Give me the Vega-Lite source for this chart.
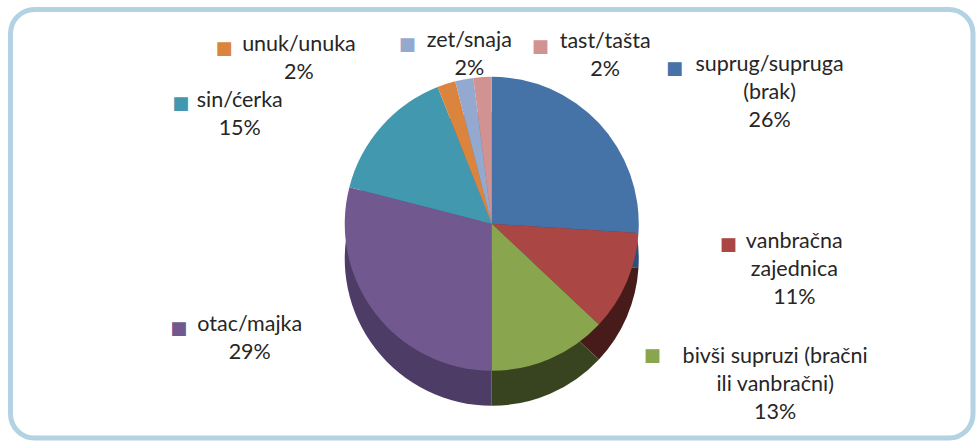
{
  "$schema": "https://vega.github.io/schema/vega-lite/v6.json",
  "width": 977,
  "height": 441,
  "autosize": {"type": "fit", "contains": "padding"},
  "padding": {"left": 10.5, "top": 9.5, "right": 4, "bottom": 3},
  "background": "white",
  "view": {"stroke": "#b3d2e2", "strokeWidth": 5, "cornerRadius": 24, "fill": "white"},
  "data": {
    "values": [
      {"name": "suprug/supruga", "lines": ["suprug/supruga", "(brak)", "26%"], "pct": 26, "k": 1},
      {"name": "vanbračna zajednica", "lines": ["vanbračna", "zajednica", "11%"], "pct": 11, "k": 2},
      {"name": "bivši supruzi (bračni ili vanbračni)", "lines": ["bivši supruzi (bračni", "ili vanbračni)", "13%"], "pct": 13, "k": 3},
      {"name": "otac/majka", "lines": ["otac/majka", "29%"], "pct": 29, "k": 4},
      {"name": "sin/ćerka", "lines": ["sin/ćerka", "15%"], "pct": 15, "k": 5},
      {"name": "unuk/unuka", "lines": ["unuk/unuka", "2%"], "pct": 2, "k": 6},
      {"name": "zet/snaja", "lines": ["zet/snaja", "2%"], "pct": 2, "k": 7},
      {"name": "tast/tašta", "lines": ["tast/tašta", "2%"], "pct": 2, "k": 8}
    ]
  },
  "encoding": {
    "theta": {"field": "pct", "type": "quantitative", "stack": true},
    "order": {"field": "k", "type": "quantitative"}
  },
  "layer": [
    {
      "mark": {"type": "arc", "outerRadius": 147, "yOffset": 35},
      "encoding": {
        "color": {
          "field": "name", "type": "nominal", "legend": null,
          "scale": {
            "domain": ["suprug/supruga", "vanbračna zajednica", "bivši supruzi (bračni ili vanbračni)", "otac/majka", "sin/ćerka", "unuk/unuka", "zet/snaja", "tast/tašta"],
            "range": ["#2e4f78", "#461b19", "#38441f", "#4d3c66", "#2a6b7c", "#9a5a28", "#66769a", "#936665"]
          }
        }
      }
    },
    {
      "mark": {"type": "arc", "outerRadius": 147},
      "encoding": {
        "color": {
          "field": "name", "type": "nominal", "legend": null,
          "scale": {
            "domain": ["suprug/supruga", "vanbračna zajednica", "bivši supruzi (bračni ili vanbračni)", "otac/majka", "sin/ćerka", "unuk/unuka", "zet/snaja", "tast/tašta"],
            "range": ["#4572a7", "#aa4643", "#89a54e", "#71588f", "#4198af", "#db843d", "#93a9cf", "#d19392"]
          }
        }
      }
    },
    {
      "mark": {
        "type": "text", "radius": 200, "text": "■", "font": "DejaVu Sans", "fontSize": 18,
        "align": "center", "baseline": "middle",
        "dx": {"expr": "[37, 53, 81, -155, -161, -206, -47, 61][datum.k - 1]"},
        "dy": {"expr": "[-18, -58, -51, -17, 13, 15, 18, 23][datum.k - 1]"}
      },
      "encoding": {
        "color": {
          "field": "name", "type": "nominal", "legend": null,
          "scale": {
            "domain": ["suprug/supruga", "vanbračna zajednica", "bivši supruzi (bračni ili vanbračni)", "otac/majka", "sin/ćerka", "unuk/unuka", "zet/snaja", "tast/tašta"],
            "range": ["#4572a7", "#aa4643", "#89a54e", "#71588f", "#4198af", "#db843d", "#93a9cf", "#d19392"]
          }
        }
      }
    },
    {
      "mark": {
        "type": "text", "radius": 200, "font": "Lato", "fontSize": 21.5, "lineHeight": 28,
        "color": "#262626", "align": "center", "baseline": "middle",
        "dx": {"expr": "[132, 119, 204, -84, -102, -131, 15, 126][datum.k - 1]"},
        "dy": {"expr": "[-22, -61, -50, -21, 10, 11, 14, 18][datum.k - 1]"}
      },
      "encoding": {
        "text": {"field": "lines"}
      }
    }
  ],
  "resolve": {"scale": {"color": "independent"}}
}
